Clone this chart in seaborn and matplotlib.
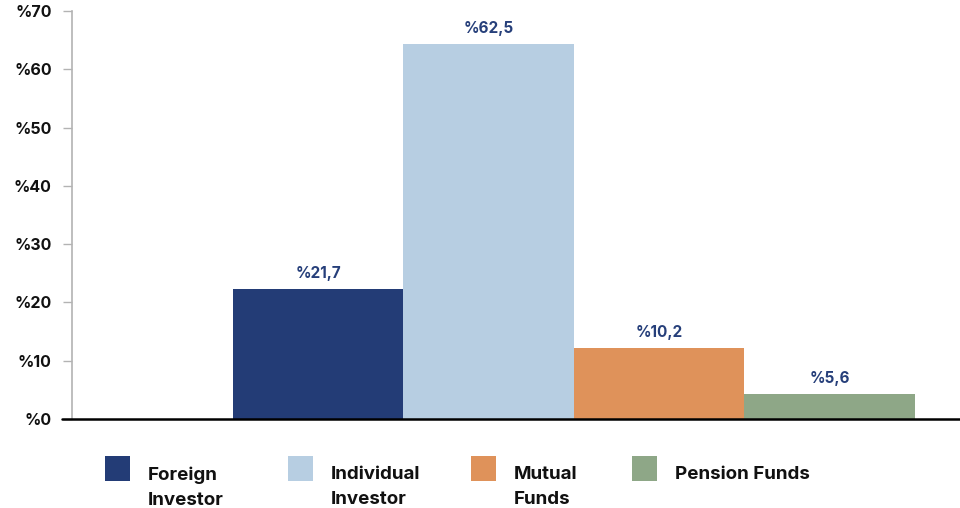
import matplotlib
matplotlib.use("Agg")
import matplotlib.pyplot as plt
from matplotlib.patches import Rectangle
import seaborn as sns
import pandas as pd

categories = ["Foreign Investor", "Individual Investor", "Mutual Funds", "Pension Funds"]
legend_labels = ["Foreign\nInvestor", "Individual\nInvestor", "Mutual\nFunds", "Pension Funds"]
bar_heights = [22.3, 64.4, 12.2, 4.3]
value_labels = ["%21,7", "%62,5", "%10,2", "%5,6"]
colors = ["#233c76", "#b7cee2", "#df925a", "#8ea787"]
yticks = [0, 10, 20, 30, 40, 50, 60, 70]
ytick_labels = ["%0", "%10", "%20", "%30", "%40", "%50", "%60", "%70"]

sns.set_theme(style="white")
plt.rcParams["font.family"] = ["Inter", "DejaVu Sans"]

W, H = 960, 508
fig = plt.figure(figsize=(W / 100, H / 100), dpi=100)
ax = fig.add_axes([72 / W, (H - 418.8) / H, 888 / W, 407.8 / H])

df = pd.DataFrame({"category": categories, "value": bar_heights})
sns.barplot(data=df, x="category", y="value", hue="category", order=categories,
            hue_order=categories, palette=colors, width=1.0, legend=False,
            saturation=1, ax=ax, edgecolor="none", linewidth=0)

ax.set_xlim(-1.444, 3.764)
ax.set_ylim(0, 70)
ax.set_xlabel("")
ax.set_ylabel("")
ax.set_xticks([])
ax.set_yticks(yticks)
ax.set_yticklabels(ytick_labels, fontsize=11.5, fontweight="bold", color="#111111")
ax.tick_params(axis="y", length=6.5, width=1.0, color="#b3b3b3", pad=8, left=True)

for s in ["top", "right", "bottom"]:
    ax.spines[s].set_visible(False)
ax.spines["left"].set_color("#b3b3b3")
ax.spines["left"].set_linewidth(1.2)
ax.axhline(0, xmin=-10 / 888, xmax=1, color="black", lw=1.8, clip_on=False, zorder=5)

for i, (h, lab) in enumerate(zip(bar_heights, value_labels)):
    ax.annotate(lab, (i, h), xytext=(0, 8), textcoords="offset pixels",
                ha="center", va="bottom", fontsize=11, fontweight="bold", color="#263f7a")

# legend
sq_x = [105, 288, 471, 632]
for x, lab, c in zip(sq_x, legend_labels, colors):
    fig.patches.append(Rectangle((x / W, (H - 481) / H), 25 / W, 25 / H,
                                 transform=fig.transFigure, facecolor=c, edgecolor="none"))
    fig.text((x + 43) / W, (H - 466) / H, lab, ha="left", va="top", fontsize=13.5,
             fontweight="bold", color="#111111", linespacing=1.62)

fig.savefig("out.png", dpi=100)
